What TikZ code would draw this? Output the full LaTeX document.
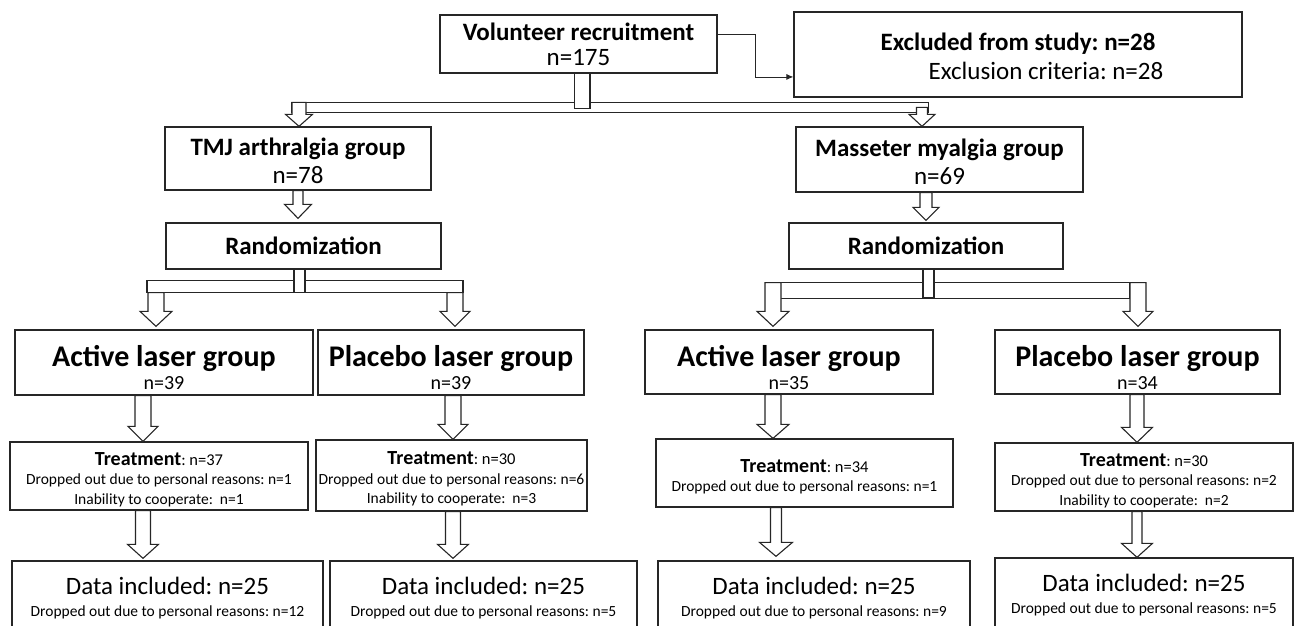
\documentclass[tikz,border=0pt]{standalone}
\usepackage{fontspec}
\setmainfont{Carlito}
\usetikzlibrary{calc,arrows.meta}
\newcommand\dnarrow[5]{\draw[barrow] let \p1=(#1),\p2=(#2) in
 (\x2-#3,\y1) -- (\x2-#3,\y2+#5) -- (\x2-#4,\y2+#5) -- (\x2,\y2) -- (\x2+#4,\y2+#5) -- (\x2+#3,\y2+#5) -- (\x2+#3,\y1) -- cycle;}
\newcommand\szA{\fontsize{25}{26}\selectfont}
\newcommand\szL{\fontsize{30}{32}\selectfont}
\newcommand\szN{\fontsize{20}{22}\selectfont}
\newcommand\szT{\fontsize{20}{20}\selectfont}
\newcommand\szTn{\fontsize{16.5}{19.5}\selectfont}
\newcommand\szS{\fontsize{15.5}{19.5}\selectfont}
\newcommand\szD{\fontsize{25}{27}\selectfont}
\newcommand\lstrut{\rule{0pt}{32pt}}
\newcommand\tstrut{\rule{0pt}{20pt}}
\begin{document}
\frenchspacing
\begin{tikzpicture}[x=1pt,y=-1pt,
 box/.style={draw=black!85,line width=1.3pt,fill=white,inner sep=0pt,align=center},
 abox/.style={box,font=\szA},
 lbox/.style={box,font=\szL},
 tbox/.style={box,font=\szS},
 dbox/.style={box,font=\szD},
 barrow/.style={draw=black!85,line width=1.1pt,fill=white,line join=miter},
 thinline/.style={draw=black!85,line width=0.8pt}]
\useasboundingbox (0,0) rectangle (1295,626);
\clip (0,0) rectangle (1295,626);
% row 1
\node[abox,minimum width=277,minimum height=58] (vol) at (578.5,44)
 {\textbf{Volunteer recruitment}\\[-1pt] n=175};
\node[abox,minimum width=448,minimum height=85] (excl) at (1018,54.5)
 {\rule{0pt}{22pt}\textbf{Excluded from study: n=28}\\[3pt] \hspace*{56pt}Exclusion criteria: n=28};
% row 2
\node[abox,minimum width=266,minimum height=63] (tmj) at (298,158.5)
 {\rule{0pt}{22pt}\textbf{TMJ arthralgia group}\\[2pt] n=78};
\node[abox,minimum width=287,minimum height=65] (mass) at (939.5,159.5)
 {\rule{0pt}{22pt}\textbf{Masseter myalgia group}\\[2pt] n=69};
\node[abox,minimum width=275,minimum height=46] (randL) at (303.5,246) {\textbf{Randomization}};
\node[abox,minimum width=274,minimum height=46] (randR) at (926,246) {\textbf{Randomization}};
% row 3
\node[lbox,minimum width=298,minimum height=65] (alL) at (164,362.5)
 {\lstrut\textbf{Active laser group}\\[-9pt] \szN n=39};
\node[lbox,minimum width=266,minimum height=65] (plL) at (451,362.5)
 {\lstrut\textbf{Placebo laser group}\\[-9pt] \szN n=39};
\node[lbox,minimum width=288,minimum height=64] (alR) at (789,362)
 {\lstrut\textbf{Active laser group}\\[-9pt] \szN n=35};
\node[lbox,minimum width=285,minimum height=64] (plR) at (1137.5,362)
 {\lstrut\textbf{Placebo laser group}\\[-9pt] \szN n=34};
% row 4
\node[tbox,minimum width=298,minimum height=68] (tL) at (159,476)
 {\tstrut{\szT\textbf{Treatment}}{\szTn: n=37}\\ Dropped out due to personal reasons: n=1\\ Inability to cooperate:\ \ n=1};
\node[tbox,minimum width=271,minimum height=71] (tPL) at (451.5,475.5)
 {\tstrut{\szT\textbf{Treatment}}{\szTn: n=30}\\ Dropped out due to personal reasons: n=6\\ Inability to cooperate:\ \ n=3};
\node[tbox,minimum width=297,minimum height=68] (tAR) at (804.5,473)
 {\tstrut{\szT\textbf{Treatment}}{\szTn: n=34}\\ Dropped out due to personal reasons: n=1};
\node[tbox,minimum width=298,minimum height=68] (tPR) at (1144,477)
 {\tstrut{\szT\textbf{Treatment}}{\szTn: n=30}\\ Dropped out due to personal reasons: n=2\\ Inability to cooperate:\ \ n=2};
% row 5
\node[dbox,minimum width=311,minimum height=75] (dL) at (167.5,598.5)
 {Data included: n=25\\[-5pt] \szS Dropped out due to personal reasons: n=12};
\node[dbox,minimum width=307,minimum height=75] (dPL) at (483.5,598.5)
 {Data included: n=25\\[-5pt] \szS Dropped out due to personal reasons: n=5};
\node[dbox,minimum width=312,minimum height=75] (dAR) at (814,598.5)
 {Data included: n=25\\[-5pt] \szS Dropped out due to personal reasons: n=9};
\node[dbox,minimum width=298,minimum height=75] (dPR) at (1144,595.5)
 {Data included: n=25\\[-5pt] \szS Dropped out due to personal reasons: n=5};
% elbow connector
\coordinate (ea) at ($(vol.north east)!0.33!(vol.south east)$);
\coordinate (eb) at ($(excl.north west)!0.76!(excl.south west)$);
\draw[thinline,-{Latex[length=7pt,width=6pt]}] (ea) -| ($(ea)!0.5!(eb)$) |- (eb);
% top bar
\coordinate (tbL) at ($(tmj.north)+(-6,-24)$);
\coordinate (tbR) at ($(mass.north)+(-11,-19)$);
\draw[barrow] (tbL) rectangle ($(tbR)+(0,5)$);
\dnarrow{tbL}{$(tmj.north)+(1,0)$}{7}{13.5}{12}
\dnarrow{tbR}{$(mass.north)+(-17.5,0)$}{5.5}{13}{12}
\draw[barrow] ($(vol.south)+(-4,0)$) rectangle ($(vol.south)+(11.5,35)$);
% tmj / masseter to randomization
\dnarrow{tmj.south}{$(randL.north)+(-5.5,-4)$}{5}{13.5}{14}
\dnarrow{mass.south}{$(randR.north)+(0,-2)$}{6}{13}{13}
% left bar
\coordinate (lbL) at ($(randL.south)+(-156.5,11)$);
\coordinate (lbR) at ($(randL.south)+(159.5,23)$);
\draw[barrow] (lbL) rectangle (lbR);
\dnarrow{$(lbL)+(0,12)$}{$(alL.north)+(-8,-3)$}{8}{16}{15}
\dnarrow{$(lbR)$}{$(plL.north)+(4,-3)$}{8}{15}{15}
\draw[barrow] ($(randL.south)+(-9.5,0)$) rectangle ($(randL.south)+(1.5,23)$);
% right bar
\coordinate (rbL) at ($(randR.south)+(-147,13)$);
\coordinate (rbR) at ($(randR.south)+(204,29)$);
\draw[barrow] (rbL) rectangle (rbR);
\dnarrow{$(rbL)+(0,0)$}{$(alR.north)+(-16,-3)$}{8}{16}{15}
\dnarrow{$(rbR)+(0,-16)$}{$(plR.north)+(0.5,-3)$}{8}{15}{15}
\draw[barrow] ($(randR.south)+(-3,0)$) rectangle ($(randR.south)+(8,28)$);
% laser -> treatment
\dnarrow{alL.south}{$(tL.north)+(-16,0)$}{8}{15}{15}
\dnarrow{plL.south}{$(tPL.north)+(1.5,0)$}{8}{15}{15}
\dnarrow{alR.south}{$(tAR.north)+(-31.5,0)$}{8}{16}{14}
\dnarrow{plR.south}{$(tPR.north)+(-7,0)$}{7}{15.5}{15}
% treatment -> data
\dnarrow{tL.south}{$(dL.north)+(-24.5,-2)$}{7.5}{15.5}{14}
\dnarrow{tPL.south}{$(dPL.north)+(-30.5,-2)$}{7.5}{15.5}{14}
\dnarrow{tAR.south}{$(dAR.north)+(-38,-4)$}{5.5}{16.5}{14}
\dnarrow{tPR.south}{$(dPR.north)+(-7,0)$}{5}{15.5}{14}
\end{tikzpicture}
\end{document}
